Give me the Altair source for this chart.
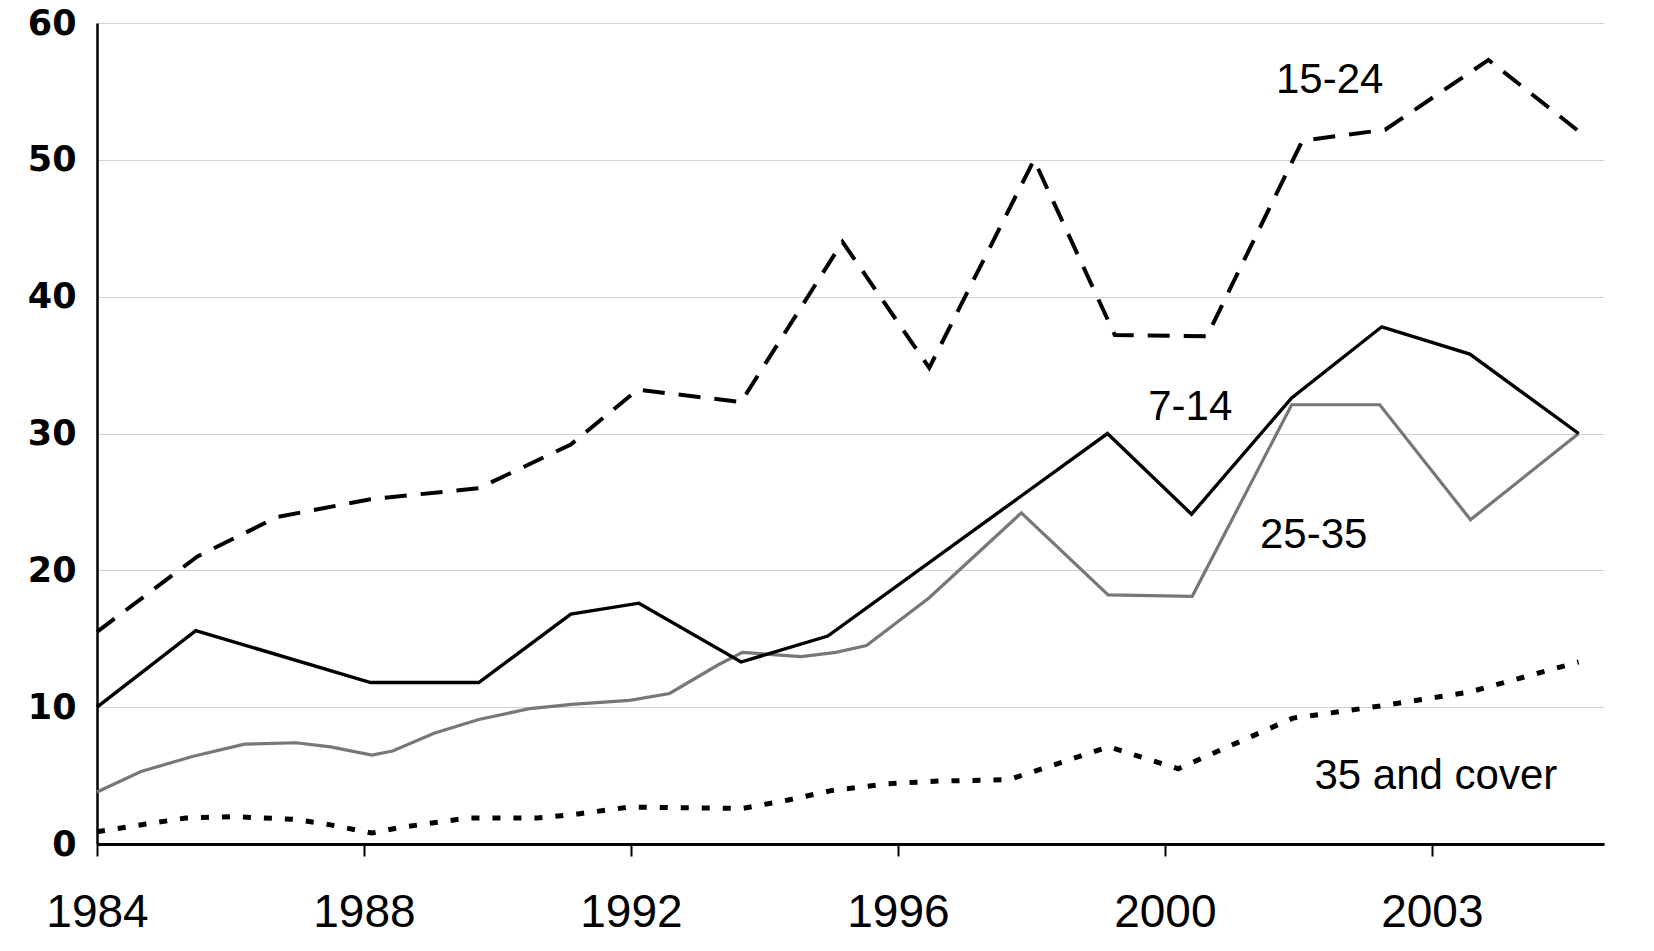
import altair as alt
import pandas as pd

# x positions are in "axis units": 0 = 1984 tick, 4 units between labelled ticks
tick_values = [0, 4, 8, 12, 16, 20]
tick_labels = ["1984", "1988", "1992", "1996", "2000", "2003"]

t_7_14 = [0, 1.48, 4.1, 5.72, 7.1, 8.12, 9.65, 10.95, 15.14, 16.4, 17.9, 19.25, 20.57, 22.2]
v_7_14 = [10.0, 15.6, 11.8, 11.8, 16.8, 17.6, 13.3, 15.2, 30.0, 24.1, 32.6, 37.8, 35.8, 30.0]

t_15_24 = [0, 1.5, 2.7, 4.1, 5.72, 7.1, 8.1, 9.65, 11.17, 12.47, 14.04, 15.25, 16.63, 18.06, 19.3, 20.85, 22.25]
v_15_24 = [15.5, 21.0, 23.9, 25.2, 26.0, 29.2, 33.2, 32.3, 44.0, 34.8, 50.0, 37.2, 37.1, 51.4, 52.2, 57.3, 51.9]

t_25_35 = [0, 0.66, 1.43, 2.21, 2.98, 3.5, 4.12, 4.43, 5.05, 5.72, 6.49, 7.11, 7.98, 8.58, 9.31, 9.67,
           10.55, 11.07, 11.53, 12.47, 13.85, 15.15, 16.41, 17.9, 19.22, 20.58, 22.2]
v_25_35 = [3.8, 5.3, 6.4, 7.3, 7.4, 7.1, 6.5, 6.8, 8.1, 9.1, 9.9, 10.2, 10.5, 11.0, 13.1, 14.0,
           13.7, 14.0, 14.5, 18.0, 24.2, 18.2, 18.1, 32.1, 32.1, 23.7, 30.0]

t_35 = [0, 1.33, 2.05, 2.98, 3.5, 4.12, 4.53, 5.56, 6.6, 7.21, 7.98, 9.67, 10.34, 11.0, 11.84, 12.62,
        13.66, 13.97, 15.16, 16.2, 17.92, 19.25, 20.56, 22.2]
v_35 = [0.9, 1.9, 2.0, 1.8, 1.4, 0.8, 1.2, 1.9, 1.9, 2.2, 2.7, 2.6, 3.2, 3.9, 4.4, 4.6,
        4.7, 5.2, 7.1, 5.5, 9.2, 10.1, 11.1, 13.3]

label_text = ["15-24", "7-14", "25-35", "35 and cover"]
label_t = [18.47, 16.38, 18.23, 20.06]
label_v = [54.9, 31.0, 21.6, 4.0]

X_MAX = 22.58
PLOT_W, PLOT_H = 1507, 821

x_scale = alt.Scale(domain=[0, X_MAX], nice=False, zero=False)
y_scale = alt.Scale(domain=[0, 60], nice=False)

label_expr = "[" + ",".join("'%s'" % s for s in tick_labels) + "][round(datum.value/4)]"

x_axis = alt.Axis(
    values=tick_values, labelExpr=label_expr, grid=False, title=None,
    domainColor="black", domainWidth=3, tickColor="black", tickWidth=2, tickSize=12,
    labelFont="Liberation Sans Narrow, Arial Narrow, Liberation Sans, Arial, sans-serif",
    labelFontSize=46, labelColor="black",
    labelPadding=34, labelFlush=False, labelOverlap=False,
)
y_axis = alt.Axis(
    values=[0, 10, 20, 30, 40, 50, 60], title=None, ticks=False,
    domainColor="black", domainWidth=2.5,
    grid=True, gridColor="#d2d2d2", gridWidth=1.2,
    labelFont="DejaVu Sans", labelFontWeight="bold", labelFontSize=35,
    labelColor="black", labelPadding=21, labelFlush=False,
)


def series_df(t, v):
    return pd.DataFrame({"t": t, "v": v})


base_x = alt.X("t:Q", scale=x_scale, axis=x_axis)
base_y = alt.Y("v:Q", scale=y_scale, axis=y_axis)

axes_layer = alt.Chart(series_df(t_7_14, v_7_14)).mark_line(opacity=0).encode(x=base_x, y=base_y)

line_7_14 = alt.Chart(series_df(t_7_14, v_7_14)).mark_line(
    color="black", strokeWidth=3.4, strokeJoin="miter"
).encode(x=alt.X("t:Q", scale=x_scale), y=alt.Y("v:Q", scale=y_scale))

line_15_24 = alt.Chart(series_df(t_15_24, v_15_24)).mark_line(
    color="black", strokeWidth=4, strokeDash=[22, 14]
).encode(x=alt.X("t:Q", scale=x_scale), y=alt.Y("v:Q", scale=y_scale))

line_25_35 = alt.Chart(series_df(t_25_35, v_25_35)).mark_line(
    color="#777777", strokeWidth=3.2
).encode(x=alt.X("t:Q", scale=x_scale), y=alt.Y("v:Q", scale=y_scale))

line_35 = alt.Chart(series_df(t_35, v_35)).mark_line(
    color="black", strokeWidth=5, strokeDash=[8, 13]
).encode(x=alt.X("t:Q", scale=x_scale), y=alt.Y("v:Q", scale=y_scale))

labels = alt.Chart(pd.DataFrame({"t": label_t, "v": label_v, "txt": label_text})).mark_text(
    font="Liberation Sans", fontSize=42, color="black", align="center", baseline="alphabetic"
).encode(x=alt.X("t:Q", scale=x_scale), y=alt.Y("v:Q", scale=y_scale), text="txt:N")

chart = alt.layer(axes_layer, line_15_24, line_25_35, line_7_14, line_35, labels).properties(
    width=PLOT_W, height=PLOT_H,
    autosize=alt.AutoSizeParams(type="none"),
    padding={"left": 97, "top": 23, "right": 50, "bottom": 107},
    background="white",
).configure_view(stroke=None)

chart.save("out.html", embed_options={"renderer": "svg", "actions": False})
